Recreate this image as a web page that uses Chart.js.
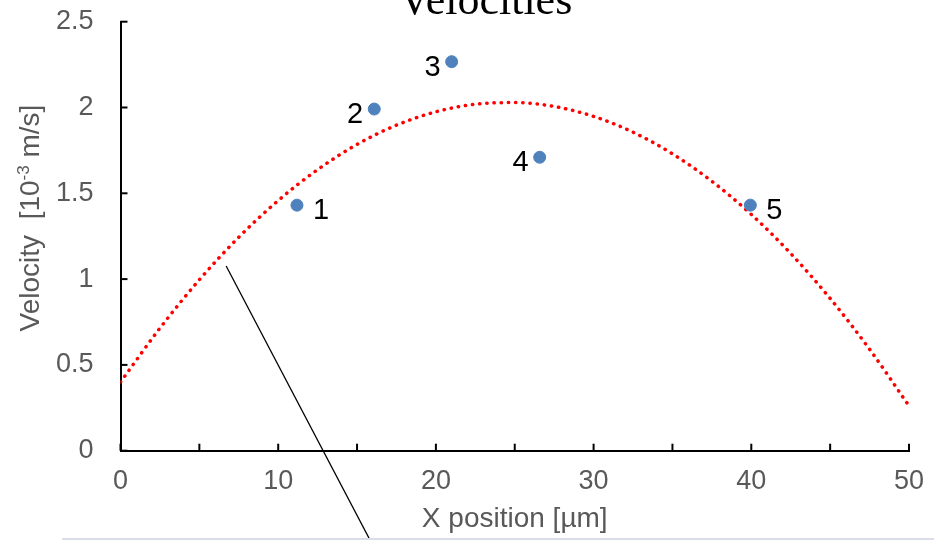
<!DOCTYPE html>
<html><head><meta charset="utf-8">
<script src="https://cdn.jsdelivr.net/npm/chart.js@4/dist/chart.umd.min.js"></script>
<style>
html,body{margin:0;padding:0;background:#fff;}
#wrap{position:relative;width:934px;height:540px;overflow:hidden;background:#fff;}
#band{position:absolute;left:62px;top:538px;width:872px;height:2px;background:#d9dde9;}
canvas{display:block;}
</style></head><body>
<div id="wrap"><canvas id="c" width="934" height="540"></canvas><div id="band"></div></div>
<script>
// ---- data ----
const pointLabels = ['1', '2', '3', '4', '5'];
const pointX = [11.19, 16.09, 21.0, 26.58, 39.94];
const pointY = [1.431, 1.991, 2.267, 1.710, 1.431];

const curveX = [0, 2.5, 5, 7.5, 10, 12.5, 15, 17.5, 20, 22.5, 25, 27.5, 30, 32.5, 35, 37.5, 40, 42.5, 45, 47.5, 50];
const curveY = [0.40, 0.714, 0.996, 1.244, 1.458, 1.638, 1.785, 1.897, 1.975, 2.019, 2.029, 2.006, 1.948, 1.856, 1.730, 1.570, 1.377, 1.149, 0.887, 0.591, 0.261];

const leaderX = [6.70, 15.99];
const leaderY = [1.076, -0.55];

const xTickValues = [0, 10, 20, 30, 40, 50];
const xTickMarks = [0, 5, 10, 15, 20, 25, 30, 35, 40, 45, 50];
const yTickValues = [0, 0.5, 1, 1.5, 2, 2.5];
const yTickLabels = ['0', '0.5', '1', '1.5', '2', '2.5'];

const chartTitle = 'Velocities';
const xTitle = 'X position [µm]';
const yTitleParts = ['Velocity  [10', '-3', ' m/s]'];

// label placement (style, not data)
const labelSide = ['right', 'left', 'left', 'left', 'right'];

const zip = (xs, ys) => xs.map((x, i) => ({x: x, y: ys[i]}));

const decor = {
  id: 'decor',
  afterDraw(chart) {
    const ctx = chart.ctx, xs = chart.scales.x, ys = chart.scales.y;
    ctx.save();
    ctx.strokeStyle = '#000';
    ctx.lineWidth = 2;
    const y0 = ys.getPixelForValue(0), x0 = xs.getPixelForValue(0);
    xTickMarks.forEach(v => {
      const px = xs.getPixelForValue(v);
      ctx.beginPath(); ctx.moveTo(px, y0); ctx.lineTo(px, y0 - 7); ctx.stroke();
    });
    yTickValues.forEach(v => {
      const py = ys.getPixelForValue(v);
      ctx.beginPath(); ctx.moveTo(x0, py); ctx.lineTo(x0 + 7, py); ctx.stroke();
    });
    const meta = chart.getDatasetMeta(0);
    ctx.fillStyle = '#000';
    ctx.font = '29px "Liberation Sans", Arial, sans-serif';
    ctx.textBaseline = 'middle';
    meta.data.forEach((pt, i) => {
      if (labelSide[i] === 'right') { ctx.textAlign = 'left'; ctx.fillText(pointLabels[i], pt.x + 16, pt.y + 6); }
      else { ctx.textAlign = 'right'; ctx.fillText(pointLabels[i], pt.x - 11, pt.y + 6); }
    });
    ctx.font = '44px "Liberation Serif", "Times New Roman", serif';
    ctx.textAlign = 'center';
    ctx.textBaseline = 'alphabetic';
    ctx.fillText(chartTitle, 485.5, 13.5);
    ctx.fillStyle = '#595959';
    ctx.translate(29, 218);
    ctx.rotate(-Math.PI / 2);
    const mainFont = '28px "Liberation Sans", Arial, sans-serif';
    const supFont = '17px "Liberation Sans", Arial, sans-serif';
    ctx.font = mainFont; const w1 = ctx.measureText(yTitleParts[0]).width;
    ctx.font = supFont; const w2 = ctx.measureText(yTitleParts[1]).width;
    ctx.font = mainFont; const w3 = ctx.measureText(yTitleParts[2]).width;
    let tx = -(w1 + w2 + w3) / 2;
    ctx.textAlign = 'left';
    ctx.textBaseline = 'alphabetic';
    ctx.font = mainFont; ctx.fillText(yTitleParts[0], tx, 10); tx += w1;
    ctx.font = supFont; ctx.fillText(yTitleParts[1], tx, 0); tx += w2;
    ctx.font = mainFont; ctx.fillText(yTitleParts[2], tx, 10);
    ctx.restore();
  }
};

new Chart(document.getElementById('c'), {
  type: 'scatter',
  data: {
    datasets: [
      {
        label: 'Velocity',
        data: zip(pointX, pointY),
        backgroundColor: '#4F81BD',
        borderColor: '#4F81BD',
        pointRadius: 6,
        pointHoverRadius: 6,
        showLine: false,
        order: 0
      },
      {
        label: 'Trend',
        data: zip(curveX, curveY),
        showLine: true,
        borderColor: '#FF0000',
        borderWidth: 3.5,
        borderDash: [0.3, 6.9],
        borderCapStyle: 'round',
        cubicInterpolationMode: 'monotone',
        pointRadius: 0,
        fill: false,
        order: 1
      },
      {
        label: 'Leader',
        data: zip(leaderX, leaderY),
        showLine: true,
        borderColor: '#000',
        borderWidth: 1.3,
        pointRadius: 0,
        clip: false,
        order: 2
      }
    ]
  },
  options: {
    responsive: false,
    animation: false,
    devicePixelRatio: 1,
    layout: { padding: { top: 21.7, right: 25, bottom: 0, left: 0 } },
    plugins: { legend: { display: false }, tooltip: { enabled: false }, title: { display: false } },
    scales: {
      x: {
        type: 'linear', min: 0, max: 50,
        afterFit(s) { s.height = 89.3; s.paddingLeft = 0; s.paddingRight = 0; s.paddingTop = 0; s.paddingBottom = 0; },
        afterBuildTicks(s) { s.ticks = xTickValues.map(v => ({value: v})); },
        grid: { display: false, drawTicks: false },
        border: { display: true, color: '#000', width: 2 },
        ticks: { color: '#595959', padding: 15, font: { family: '"Liberation Sans", Arial, sans-serif', size: 27 }, maxRotation: 0, callback: v => String(v) },
        title: { display: true, text: xTitle, color: '#595959', padding: { top: 0, bottom: 4 }, font: { family: '"Liberation Sans", Arial, sans-serif', size: 28 } }
      },
      y: {
        type: 'linear', min: 0, max: 2.5,
        afterFit(s) { s.width = 120.5; s.paddingLeft = 0; s.paddingRight = 0; s.paddingTop = 0; s.paddingBottom = 0; },
        afterBuildTicks(s) { s.ticks = yTickValues.map(v => ({value: v})); },
        grid: { display: false, drawTicks: false },
        border: { display: true, color: '#000', width: 2 },
        ticks: { color: '#595959', padding: 27, font: { family: '"Liberation Sans", Arial, sans-serif', size: 27 },
          callback: (v) => yTickLabels[yTickValues.indexOf(v)] }
      }
    }
  },
  plugins: [decor]
});
</script>
</body></html>
